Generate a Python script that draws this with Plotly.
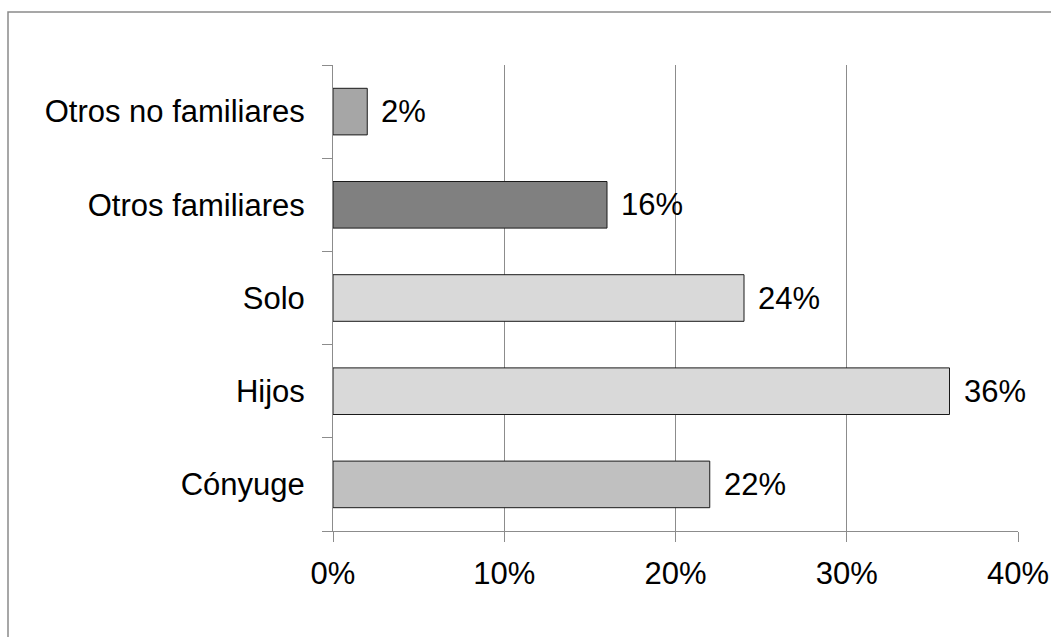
import plotly.graph_objects as go

categories = ["Cónyuge", "Hijos", "Solo", "Otros familiares", "Otros no familiares"]
values = [22, 36, 24, 16, 2]
colors = ["#c0c0c0", "#d9d9d9", "#d9d9d9", "#808080", "#a6a6a6"]
tick_vals = [0, 10, 20, 30, 40]
tick_text = ["0%", "10%", "20%", "30%", "40%"]

FONT = "Liberation Sans, Arial, sans-serif"
FS = 31

fig = go.Figure()
fig.add_trace(go.Bar(
    x=values, y=categories, orientation="h",
    marker=dict(color=colors, line=dict(color="#1a1a1a", width=1)),
    width=0.5, hoverinfo="skip",
))

for c, v in zip(categories, values):
    fig.add_annotation(x=v, y=c, text=f"{v}%", showarrow=False,
                       xanchor="left", xshift=12,
                       font=dict(family=FONT, size=FS, color="#000"))

fig.add_shape(type="rect", xref="paper", yref="paper",
              x0=(8 - 333) / 685, x1=(1070 - 333) / 685,
              y0=(531 - 660) / 466, y1=(531 - 12) / 466,
              line=dict(color="#8a8a8a", width=1.5), layer="below")

fig.update_layout(
    width=1051, height=637,
    margin=dict(l=333, r=33, t=65, b=106, autoexpand=False),
    paper_bgcolor="white", plot_bgcolor="white",
    showlegend=False,
    font=dict(family=FONT, size=FS, color="#000"),
    xaxis=dict(range=[0, 40], tickvals=tick_vals, ticktext=tick_text,
               showgrid=True, gridcolor="#8c8c8c", gridwidth=1,
               showline=True, linecolor="#8c8c8c", linewidth=1,
               ticks="outside", ticklen=10, tickcolor="#8c8c8c",
               zeroline=False, fixedrange=True, ticklabelstandoff=5,
               automargin=False,
               tickfont=dict(family=FONT, size=FS, color="#000")),
    yaxis=dict(categoryorder="array", categoryarray=categories,
               showgrid=False, showline=True, linecolor="#8c8c8c", linewidth=1,
               ticks="outside", ticklen=10, tickcolor="#8c8c8c",
               tickson="boundaries", ticklabelstandoff=21, fixedrange=True,
               automargin=False,
               tickfont=dict(family=FONT, size=FS, color="#000")),
)

fig.write_html("out.html")
